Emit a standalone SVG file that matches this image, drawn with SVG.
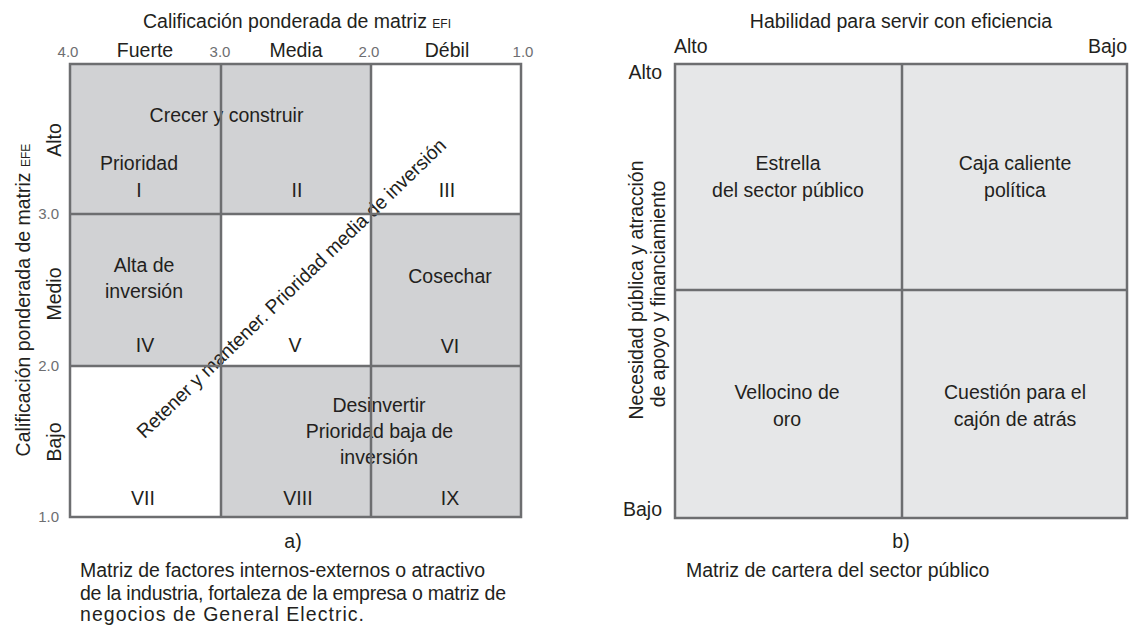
<svg xmlns="http://www.w3.org/2000/svg" width="1129" height="626" viewBox="0 0 1129 626">
<style>
text{font-family:"Liberation Sans",Arial,sans-serif;fill:#231f20;font-size:19.5px}
.m{text-anchor:middle}
.e{text-anchor:end}
.tk{font-size:15px;fill:#6d6e71}
.sm{font-size:12px}
.g{fill:#d1d2d4}
.w{fill:#ffffff}
.lg{fill:#e6e7e8}
.ln{fill:none;stroke:#6d6e70;stroke-width:2.5}
</style>
<rect width="1129" height="626" fill="#ffffff"/>

<!-- Panel a: axes -->
<g id="axis-a">
<text class="m" x="297" y="28">Calificación ponderada de matriz <tspan class="sm">EFI</tspan></text>
<text class="m tk" x="68" y="57">4.0</text>
<text class="m" x="145" y="57">Fuerte</text>
<text class="m tk" x="220" y="57">3.0</text>
<text class="m" x="296" y="57">Media</text>
<text class="m tk" x="369" y="57">2.0</text>
<text class="m" x="447" y="57">Débil</text>
<text class="m tk" x="523" y="57">1.0</text>
<text class="m" transform="translate(29.5,300) rotate(-90)">Calificación ponderada de matriz <tspan class="sm">EFE</tspan></text>
<text class="m" transform="translate(61,140) rotate(-90)">Alto</text>
<text class="m" transform="translate(61,294) rotate(-90)">Medio</text>
<text class="m" transform="translate(61,442) rotate(-90)">Bajo</text>
<text class="e tk" x="59" y="219">3.0</text>
<text class="e tk" x="59" y="371">2.0</text>
<text class="e tk" x="59" y="522">1.0</text>
</g>

<!-- Panel a: cells -->
<g id="cell-I"><rect class="g" x="70" y="64" width="151" height="150"/><text class="m" x="139" y="170">Prioridad</text><text class="m" x="139" y="197">I</text></g>
<g id="cell-II"><rect class="g" x="221" y="64" width="150" height="150"/><text class="m" x="297" y="197">II</text></g>
<g id="cell-III"><rect class="w" x="371" y="64" width="150" height="150"/><text class="m" x="447" y="197">III</text></g>
<g id="cell-IV"><rect class="g" x="70" y="214" width="151" height="152"/><text class="m" x="144" y="272">Alta de</text><text class="m" x="144" y="298">inversión</text><text class="m" x="145" y="352">IV</text></g>
<g id="cell-V"><rect class="w" x="221" y="214" width="150" height="152"/><text class="m" x="295" y="352">V</text></g>
<g id="cell-VI"><rect class="g" x="371" y="214" width="150" height="152"/><text class="m" x="450" y="283">Cosechar</text><text class="m" x="450" y="353">VI</text></g>
<g id="cell-VII"><rect class="w" x="70" y="366" width="151" height="151"/><text class="m" x="143" y="505">VII</text></g>
<g id="cell-VIII"><rect class="g" x="221" y="366" width="150" height="151"/><text class="m" x="298" y="505">VIII</text></g>
<g id="cell-IX"><rect class="g" x="371" y="366" width="150" height="151"/><text class="m" x="450" y="505">IX</text></g>

<g id="label-crecer"><text class="m" x="226.5" y="122">Crecer y construir</text></g>
<g id="label-desinvertir"><text class="m" x="379" y="412">Desinvertir</text><text class="m" x="379.5" y="438">Prioridad baja de</text><text class="m" x="379" y="464">inversión</text></g>
<g id="label-retener"><text class="m" transform="translate(296,293) rotate(-44)" textLength="421" lengthAdjust="spacingAndGlyphs">Retener y mantener. Prioridad media de inversión</text></g>

<g id="grid-a">
<rect class="ln" x="70" y="64" width="451" height="453"/>
<line class="ln" x1="221" y1="64" x2="221" y2="517"/>
<line class="ln" x1="371" y1="64" x2="371" y2="517"/>
<line class="ln" x1="70" y1="214" x2="521" y2="214"/>
<line class="ln" x1="70" y1="366" x2="521" y2="366"/>
</g>

<g id="caption-a">
<text class="m" x="293" y="548">a)</text>
<text x="80" y="577" textLength="405" lengthAdjust="spacing">Matriz de factores internos-externos o atractivo</text>
<text x="80" y="599.5" textLength="426" lengthAdjust="spacing">de la industria, fortaleza de la empresa o matriz de</text>
<text x="80" y="620.5" textLength="284" lengthAdjust="spacing">negocios de General Electric.</text>
</g>

<!-- Panel b -->
<g id="axis-b">
<text class="m" x="901" y="28">Habilidad para servir con eficiencia</text>
<text x="674" y="53">Alto</text>
<text class="e" x="1127" y="53">Bajo</text>
<text class="e" x="662" y="79">Alto</text>
<text class="e" x="662" y="516">Bajo</text>
<text class="m" transform="translate(643,290) rotate(-90)">Necesidad pública y atracción</text>
<text class="m" transform="translate(665,294) rotate(-90)">de apoyo y financiamiento</text>
</g>

<g id="cell-estrella"><rect class="lg" x="675" y="64" width="227" height="226"/><text class="m" x="788" y="170">Estrella</text><text class="m" x="788" y="197">del sector público</text></g>
<g id="cell-caja"><rect class="lg" x="902" y="64" width="225" height="226"/><text class="m" x="1015" y="170">Caja caliente</text><text class="m" x="1015" y="197">política</text></g>
<g id="cell-vellocino"><rect class="lg" x="675" y="290" width="227" height="228"/><text class="m" x="787" y="399">Vellocino de</text><text class="m" x="787" y="426">oro</text></g>
<g id="cell-cuestion"><rect class="lg" x="902" y="290" width="225" height="228"/><text class="m" x="1015" y="399">Cuestión para el</text><text class="m" x="1015" y="426">cajón de atrás</text></g>

<g id="grid-b">
<rect class="ln" x="675" y="64" width="452" height="454"/>
<line class="ln" x1="902" y1="64" x2="902" y2="518"/>
<line class="ln" x1="675" y1="290" x2="1127" y2="290"/>
</g>

<g id="caption-b">
<text class="m" x="901" y="548">b)</text>
<text x="686" y="577">Matriz de cartera del sector público</text>
</g>
</svg>
